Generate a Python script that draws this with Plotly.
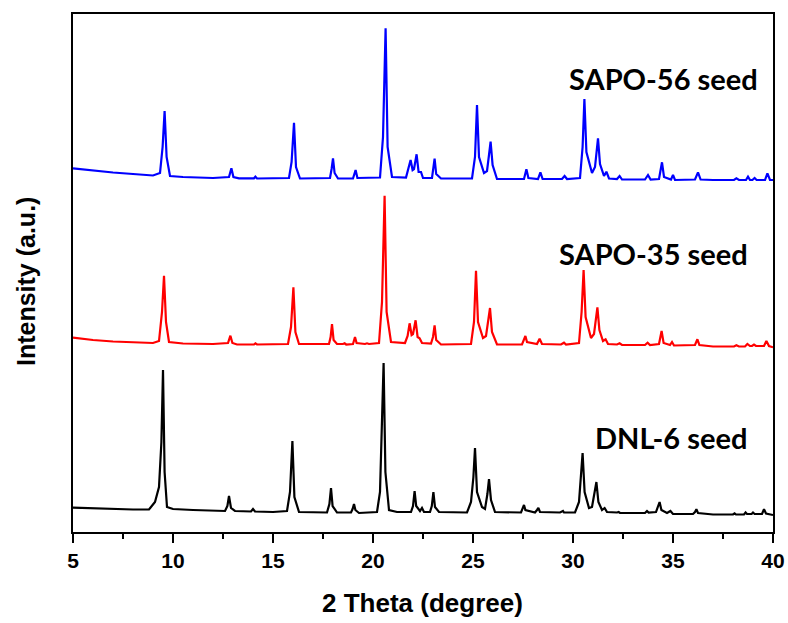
import plotly.graph_objects as go

# ---------------- data (2θ in degrees, intensity in a.u.) ----------------
dnl6_x = [5, 6, 7, 8, 8.8, 9.1, 9.3, 9.42, 9.5, 9.58, 9.7, 10, 11, 12, 12.6, 12.72, 12.8, 12.9, 13.1,
          13.9, 14.0, 14.1, 15, 15.7, 15.85, 15.97, 16.07, 16.3, 17.7, 17.82, 17.9, 17.98, 18.2, 18.9,
          18.98, 19.05, 19.12, 19.3, 20.2, 20.35, 20.45, 20.53, 20.62, 20.8, 21.2, 21.9, 22.0, 22.08,
          22.16, 22.35, 22.45, 22.55, 22.85, 22.94, 23.02, 23.1, 23.3, 24.7, 24.9, 25.02, 25.1, 25.2,
          25.45, 25.6, 25.72, 25.8, 25.9, 26.1, 27.4, 27.5, 27.55, 27.62, 28.1, 28.2, 28.27, 28.35,
          29.35, 29.45, 29.5, 29.55, 30.1, 30.3, 30.4, 30.48, 30.58, 30.8, 30.95, 31.08, 31.17, 31.27,
          31.45, 31.58, 31.7, 32.2, 32.28, 32.35, 33.6, 33.7, 33.78, 34.15, 34.25, 34.33, 34.42, 34.7,
          34.87, 35.0, 36.0, 36.1, 36.17, 36.25, 37, 38.0, 38.08, 38.15, 38.55, 38.63, 38.7, 38.93,
          39.0, 39.08, 39.45, 39.55, 39.65, 40]
dnl6_y = [24.3, 23.5, 23, 22.5, 22.5, 30, 45, 90, 162, 60, 25, 23, 22, 21, 21, 26, 36, 24, 21,
          20.5, 23, 20.5, 20, 21, 40, 91, 35, 20, 19.5, 28, 44, 26, 19.5, 19.5,
          23, 28, 22, 19, 20, 40, 100, 169, 60, 22, 20, 20, 26, 41,
          26, 21, 24, 20, 20, 26, 40, 25, 20, 19.5, 30, 55, 84, 40,
          25, 23, 38, 53, 32, 20, 19.5, 24, 27, 22, 19.5, 22, 24, 20,
          19.5, 20.5, 21, 19.5, 19.5, 30, 55, 79, 40, 24, 25, 38, 50, 30,
          22, 24, 20, 19.5, 20, 19, 19, 21, 19.5, 20, 25, 30, 22, 19,
          21, 18, 18, 20, 22.7, 19, 17.5, 17.5, 18.7, 17.5, 17.5, 19.5, 18, 18,
          19.5, 18, 18, 22.7, 18.5, 17]

sapo35_x = [5, 6, 7, 8, 9.0, 9.3, 9.45, 9.55, 9.65, 9.8, 10.5, 12.0, 12.75, 12.87, 12.97, 13.2, 14.05,
            14.12, 14.2, 15.75, 15.9, 16.02, 16.12, 16.3, 17.8, 17.88, 17.95, 18.03, 18.2, 18.5, 18.58,
            18.66, 19.0, 19.1, 19.18, 19.6, 19.7, 19.8, 20.3, 20.45, 20.58, 20.68, 20.9, 21.6, 21.73,
            21.83, 21.93, 22.0, 22.13, 22.23, 22.33, 22.45, 22.9, 23.0, 23.08, 23.16, 23.4, 24.9, 25.05,
            25.15, 25.25, 25.5, 25.65, 25.75, 25.85, 25.95, 26.2, 27.45, 27.55, 27.62, 27.7, 28.2, 28.33,
            28.45, 29.4, 29.55, 29.65, 30.3, 30.43, 30.53, 30.63, 30.9, 31.05, 31.15, 31.22, 31.32, 31.5,
            31.63, 31.75, 32.2, 32.33, 32.45, 33.6, 33.73, 33.85, 34.3, 34.43, 34.53, 34.85, 34.95, 35.05,
            36.1, 36.22, 36.32, 37, 38.05, 38.17, 38.3, 38.6, 38.72, 38.85, 38.95, 39.05, 39.15, 39.55,
            39.67, 39.8, 40]
sapo35_y = [24.3, 22, 20.5, 19.5, 19, 21, 50, 86.3, 40, 20, 18.5, 18, 19, 26.3, 19, 17.5, 17.5,
            18.7, 17.5, 18, 35, 74.7, 30, 18, 18, 25, 38, 22, 18, 18, 18.7,
            17.5, 18, 25, 19, 18, 18.7, 18, 19, 60, 166.3, 50, 20, 19, 26,
            38.7, 27, 28, 41.7, 25, 23.7, 19, 18.5, 25, 36.7, 22, 17.5, 18, 40,
            91.3, 40, 24, 26, 40, 54, 30, 17.5, 17.5, 22, 26, 20, 18, 23.3,
            18, 17.5, 19.3, 17.5, 19, 50, 92, 45, 24, 28, 43, 54.7, 32, 21,
            22.7, 18, 17.5, 18.7, 17, 17, 19.3, 17, 18, 31, 19, 17, 20, 16.5,
            17, 22.7, 17, 15.5, 15.5, 16.7, 15.5, 15.5, 18, 16, 16, 17.5, 16, 16,
            21, 16, 14.7]

sapo56_x = [5, 6, 7, 8, 9.0, 9.35, 9.48, 9.58, 9.68, 9.85, 10.5, 12.0, 12.8, 12.92, 13.02, 13.3, 14.05,
            14.12, 14.2, 15.8, 15.93, 16.05, 16.15, 16.35, 17.85, 17.93, 18.0, 18.08, 18.25, 19.0, 19.13,
            19.22, 20.35, 20.5, 20.63, 20.73, 20.95, 21.65, 21.78, 21.88, 21.98, 22.05, 22.18, 22.28,
            22.4, 22.5, 22.95, 23.0, 23.08, 23.16, 23.4, 24.95, 25.1, 25.2, 25.3, 25.55, 25.7, 25.8,
            25.88, 25.98, 26.2, 27.55, 27.67, 27.77, 28.25, 28.37, 28.48, 29.45, 29.58, 29.7, 30.35,
            30.48, 30.57, 30.67, 30.95, 31.1, 31.18, 31.25, 31.35, 31.55, 31.67, 31.8, 32.2, 32.33,
            32.45, 33.6, 33.75, 33.88, 34.3, 34.38, 34.45, 34.55, 34.9, 35.0, 35.1, 36.1, 36.25, 36.38,
            37, 38.05, 38.17, 38.3, 38.65, 38.75, 38.85, 38.97, 39.08, 39.18, 39.6, 39.72, 39.85, 40]
sapo56_y = [28.7, 26.5, 24.5, 23, 21.5, 24, 50, 86, 40, 21, 20, 19, 20, 28.7, 20, 18.7, 18.7,
            20.3, 18.5, 19, 35, 74.3, 30, 18.5, 19, 28, 38.7, 24, 18.5, 18.5, 27,
            19, 19.5, 60, 168.7, 50, 20, 19.5, 28, 37, 27, 28, 42.7, 25,
            25, 19, 19, 26, 38.3, 23, 18.5, 18.5, 40, 92, 40, 24, 26, 42,
            55.3, 32, 18, 18, 27.7, 19, 18, 24.7, 18, 18, 21, 18, 19,
            50, 98, 45, 24, 30, 45, 58.7, 33, 21, 25.3, 18.5, 18, 21,
            17.5, 17.5, 22, 17.5, 18, 26, 34.7, 20, 17.5, 22, 17, 17.5, 24.7, 17.5,
            17, 17, 18.7, 17, 17, 20.3, 17, 17, 19, 17, 17, 23.7, 17, 17]

series_names = ["DNL-6 seed", "SAPO-35 seed", "SAPO-56 seed"]
x_ticks = [5, 10, 15, 20, 25, 30, 35, 40]
x_minor_ticks = [7.5, 12.5, 17.5, 22.5, 27.5, 32.5, 37.5]

# ---------------- styling / layout ----------------
offsets = [0, 170, 335]
colors = ["#000000", "#ff0000", "#0000ff"]
xs = [dnl6_x, sapo35_x, sapo56_x]
ys = [dnl6_y, sapo35_y, sapo56_y]

fig = go.Figure()
for name, x, y, off, c in zip(series_names, xs, ys, offsets, colors):
    fig.add_trace(go.Scatter(x=x, y=[v + off for v in y], mode="lines", name=name,
                             line=dict(color=c, width=2.2), showlegend=False))

label_pos = [(34.9, 95), (34.0, 279), (34.5, 454)]
for name, (lx, ly) in zip(series_names, label_pos):
    fig.add_annotation(x=lx, y=ly, text=name, showarrow=False,
                       font=dict(family="Lato", size=29, color="black", weight="bold"),
                       xanchor="center", yanchor="middle")

# axis titles as annotations (paper coordinates)
fig.add_annotation(x=0.4986, y=-0.137, xref="paper", yref="paper", text="2 Theta (degree)",
                   showarrow=False, xanchor="center", yanchor="middle",
                   font=dict(family="Liberation Sans", size=26, color="black", weight="bold"))
fig.add_annotation(x=-0.0671, y=0.4826, xref="paper", yref="paper", text="Intensity (a.u.)",
                   showarrow=False, xanchor="center", yanchor="middle", textangle=-90,
                   font=dict(family="Liberation Sans", size=25, color="black", weight="bold"))

fig.update_layout(
    width=788, height=623,
    margin=dict(l=73, r=15, t=14, b=91, autoexpand=False),
    paper_bgcolor="white", plot_bgcolor="white",
)
fig.update_xaxes(range=[5, 40], tickvals=x_ticks, ticks="outside", ticklen=9, tickwidth=2,
                 tickcolor="black", automargin=False, ticklabeloverflow="allow",
                 minor=dict(tickvals=x_minor_ticks, ticks="outside",
                            ticklen=5, tickwidth=2, tickcolor="black"),
                 showline=True, linewidth=2, linecolor="black", mirror=True, showgrid=False,
                 zeroline=False,
                 tickfont=dict(family="Liberation Sans", size=21, color="black", weight="bold"))
fig.update_yaxes(range=[0, 518], showticklabels=False, ticks="", showline=True, linewidth=2,
                 linecolor="black", mirror=True, showgrid=False, zeroline=False, automargin=False)

# remove the default page margin so the figure fills the window exactly
fig.write_html("out.html", config={"displayModeBar": False},
               post_script="document.body.style.margin='0';document.body.style.overflow='hidden';")
